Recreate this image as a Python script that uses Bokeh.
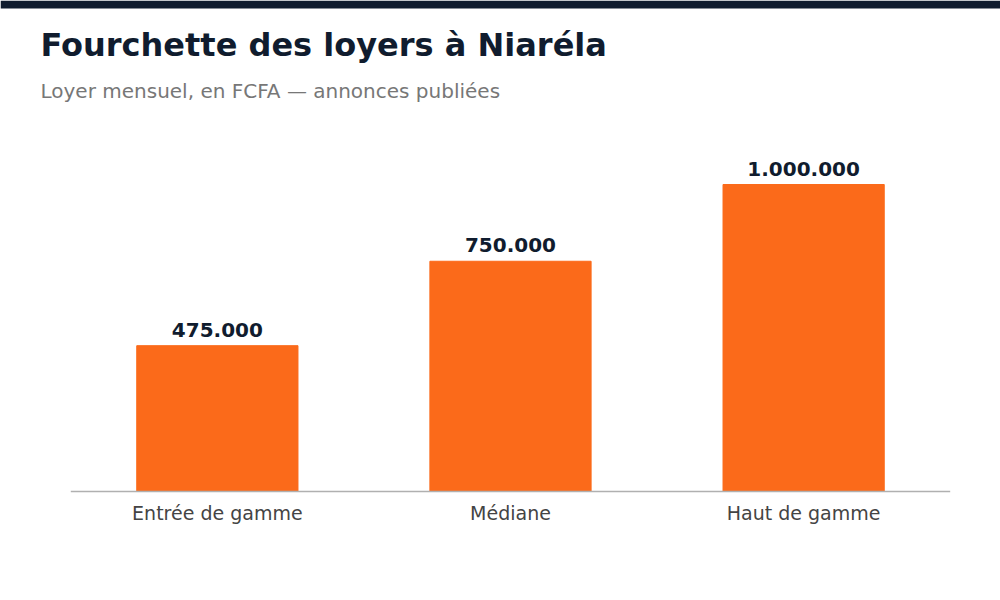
from bokeh.plotting import figure
from bokeh.models import Label, BoxAnnotation, ColumnDataSource, Range1d, LabelSet, FixedTicker
from bokeh.core.properties import value
from bokeh.embed import file_html
from bokeh.resources import INLINE

categories = ["Entrée de gamme", "Médiane", "Haut de gamme"]
values = [475000, 750000, 1000000]
value_labels = ["475.000", "750.000", "1.000.000"]

TITLE = "Fourchette des loyers à Niaréla"
SUBTITLE = "Loyer mensuel, en FCFA — annonces publiées"

W, H = 1000, 600
BOTTOM = 106
FRAME_H = H - BOTTOM          # frame covers the canvas above the axis labels
PX = 1e6 / 307                # value units per pixel

idx = list(range(len(categories)))
src = ColumnDataSource(dict(x=idx, val=values, lab=value_labels))

p = figure(width=W, height=H,
           x_range=Range1d(-217 / 293.33, len(categories) - 1 + 197 / 293.33),
           y_range=Range1d(-3 * PX, -3 * PX + FRAME_H * PX),
           output_backend="svg", toolbar_location=None, y_axis_location=None,
           min_border_left=0, min_border_right=0, min_border_top=0, min_border_bottom=BOTTOM)
p.background_fill_color = "white"
p.border_fill_color = "white"
p.outline_line_color = None
p.grid.visible = False

p.vbar(x="x", top="val", width=0.55, source=src, color="#fb6a1a")

# baseline spanning the category band
p.segment(x0=[-0.5], x1=[len(categories) - 0.5], y0=[0], y1=[0], line_color="#b0b0b0", line_width=1.5)

labels = LabelSet(x="x", y="val", text="lab", source=src, text_align="center",
                  text_baseline="alphabetic", y_offset=9, text_font=value("DejaVu Sans"),
                  text_font_style="bold", text_font_size="20px", text_color="#101c2e")
p.add_layout(labels)

xa = p.xaxis[0]
xa.ticker = FixedTicker(ticks=idx)
xa.major_label_overrides = {i: c for i, c in zip(idx, categories)}
xa.axis_line_color = None
xa.major_tick_line_color = None
xa.minor_tick_line_color = None
xa.major_label_text_font = "DejaVu Sans"
xa.major_label_text_font_size = "19px"
xa.major_label_text_color = "#444444"
xa.major_label_standoff = 1

# header (screen units: origin at the frame's bottom-left, y upwards)
topbar = BoxAnnotation(left=0, right=W, top=FRAME_H, bottom=FRAME_H - 8,
                       left_units="screen", right_units="screen",
                       top_units="screen", bottom_units="screen",
                       fill_color="#101c2e", fill_alpha=1, line_color=None)
p.add_layout(topbar)

t = Label(x=40, y=FRAME_H - 44, x_units="screen", y_units="screen", text=TITLE,
          text_font="DejaVu Sans", text_font_style="bold", text_font_size="32px",
          text_color="#101c2e", text_baseline="alphabetic")
st = Label(x=40, y=FRAME_H - 90, x_units="screen", y_units="screen", text=SUBTITLE,
           text_font="DejaVu Sans", text_font_size="20px", text_color="#777777",
           text_baseline="alphabetic")
p.add_layout(t)
p.add_layout(st)

open("out.html", "w").write(file_html(p, INLINE))
